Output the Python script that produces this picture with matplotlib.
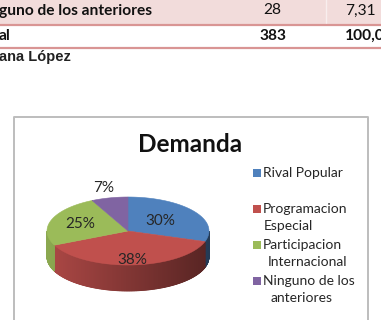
import numpy as np
import matplotlib
matplotlib.use("Agg")
import matplotlib.pyplot as plt
from matplotlib.patches import Rectangle, Polygon

# ---- data ----
categories = ["Rival Popular", "Programacion\nEspecial", "Participacion\nInternacional", "Ninguno de los\nanteriores"]
counts = [115, 146, 94, 28]
colors = ["#4f81bd", "#c0504d", "#9bbb59", "#8064a2"]
title = "Demanda"
table_row1 = ["guno de los anteriores", "28", "7,31"]
table_row2 = ["al", "383", "100,0"]
source = "ana López"

W, H = 381, 320
fig = plt.figure(figsize=(W / 100, H / 100), dpi=100)
ax = fig.add_axes([0, 0, 1, 1])
ax.set_xlim(0, W)
ax.set_ylim(H, 0)
ax.axis("off")

FONT = ["Lato", "DejaVu Sans"]

# ---- table fragment ----
ax.add_patch(Rectangle((0, 0), W, 24, facecolor="#f2dcdb", edgecolor="none"))
ax.plot([326, 326], [0, 24], color="#f8eeee", lw=1)
ax.plot([0, W], [24.5, 24.5], color="#d99594", lw=1.6)
ax.plot([0, W], [47.5, 47.5], color="#d99594", lw=1.6)
ax.text(-1, 10.5, table_row1[0], fontsize=11.2, fontweight="bold", family=FONT, va="center", ha="left", color="#111111")
ax.text(272.5, 10.5, table_row1[1], fontsize=11.2, family=FONT, va="center", ha="center", color="#111111")
ax.text(345, 10.5, table_row1[2], fontsize=11.2, family=FONT, va="center", ha="left", color="#111111")
ax.text(-1, 36, table_row2[0], fontsize=11.2, fontweight="bold", family=FONT, va="center", ha="left", color="#111111")
ax.text(272.5, 36, table_row2[1], fontsize=11.2, fontweight="bold", family=FONT, va="center", ha="center", color="#111111")
ax.text(345, 36, table_row2[2], fontsize=11.2, fontweight="bold", family=FONT, va="center", ha="left", color="#111111")
ax.text(-1, 57, source, fontsize=10.5, fontweight="bold", family=["Liberation Sans", "DejaVu Sans"], va="center", ha="left", color="#222222")

# ---- chart frame ----
ax.plot([13.5, 13.5, 368, 368], [H + 5, 116.5, 116.5, H + 5], color="#bdbdbd", lw=1.4)

ax.text(190, 144, title, fontsize=17.5, fontweight="bold", family=FONT, va="center", ha="center", color="#111111")

# ---- 3D pie ----
cx, cy, rx, ry, depth = 128, 231, 81, 34, 26
total = float(sum(counts))
fracs = [c / total for c in counts]

def pt(theta_deg, dy=0.0):
    t = np.radians(theta_deg)
    return cx + rx * np.cos(t), cy - ry * np.sin(t) + dy

def shade(hexcol, f):
    c = np.array(matplotlib.colors.to_rgb(hexcol))
    return tuple(np.clip(c * f, 0, 1))

starts = []
a = 90.0
for f in fracs:
    starts.append((a, a - 360 * f))
    a -= 360 * f

# sides
for (a0, a1), col in zip(starts, colors):
    n = max(int(abs(a0 - a1) * 2), 2)
    th = np.linspace(a0, a1, n + 1)
    for i in range(n):
        m = 0.5 * (th[i] + th[i + 1])
        if np.sin(np.radians(m)) < 0:
            p1 = pt(th[i]); p2 = pt(th[i + 1])
            p3 = pt(th[i + 1], depth); p4 = pt(th[i], depth)
            k = (np.cos(np.radians(m)) + 1) / 2
            fc = shade(col, 0.9 - 0.45 * k)
            ax.add_patch(Polygon([p1, p2, p3, p4], closed=True, facecolor=fc, edgecolor=fc, lw=0.6))

# tops
for (a0, a1), col in zip(starts, colors):
    th = np.linspace(a0, a1, 120)
    xs, ys = pt(th)
    poly = [(cx, cy)] + list(zip(xs, ys))
    ax.add_patch(Polygon(poly, closed=True, facecolor=col, edgecolor=col, lw=0.4))

# labels
label_r = [0.5, 0.85, 0.62, 1.3]
for (a0, a1), f, r in zip(starts, fracs, label_r):
    m = 0.5 * (a0 + a1)
    x = cx + rx * r * np.cos(np.radians(m))
    y = cy - ry * r * np.sin(np.radians(m))
    ax.text(x, y, f"{round(f * 100):.0f}%", fontsize=11, family=FONT, ha="center", va="center", color="#262626")

# ---- legend ----
leg_y = [173, 209, 245, 281]
line_gap = 17.5
indents = [0, 1, 5, 8]
for cat, col, y, ind in zip(categories, colors, leg_y, indents):
    ax.add_patch(Rectangle((252.5, y - 4), 8, 8, facecolor=col, edgecolor="none"))
    lines = cat.split("\n")
    for j, ln in enumerate(lines):
        xo = 263 + (ind if j > 0 else 0)
        ax.text(xo, y + j * line_gap, ln, fontsize=10, family=FONT, ha="left", va="center", color="#262626")

fig.savefig("out.png", dpi=100)
